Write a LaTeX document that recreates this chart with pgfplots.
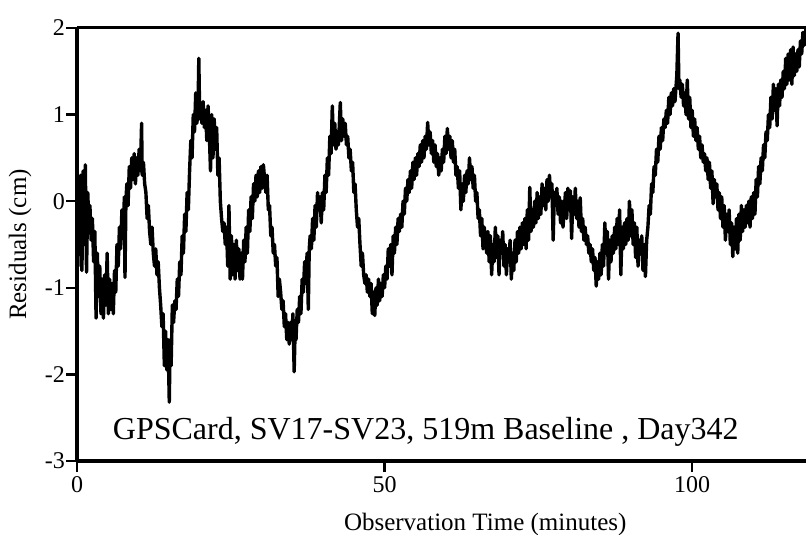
\documentclass[border=0pt]{standalone}
\usepackage{pgfplots}
\pgfplotsset{compat=1.18}
\usepackage{fontspec}
\setmainfont{Liberation Serif}
\begin{document}
\begin{tikzpicture}
\begin{axis}[
  at={(77bp,74bp)}, anchor=south west,
  width=729bp, height=433bp, scale only axis,
  xmin=0, xmax=118.5, ymin=-3, ymax=2,
  axis y line*=left,
  axis line style={line width=3bp},
  every tick/.style={line width=2.4bp, black},
  tick align=outside, tick pos=left,
  major tick length=11bp,
  xtick={0,50,100}, ytick={-3,-2,-1,0,1,2},
  /pgf/number format/assume math mode=true,
  tick label style={font=\fontsize{24bp}{28bp}\selectfont},
  xticklabel style={inner ysep=4bp},
  yticklabel style={inner xsep=1bp},
  xlabel={Observation Time (minutes)},
  ylabel={Residuals (cm)},
  label style={font=\fontsize{25bp}{29bp}\selectfont},
  xlabel style={at={(axis description cs:0.56,-0.1455)}, anchor=center},
  ylabel style={at={(axis description cs:-0.0782,0.5)}, anchor=center},
]
\addplot[black, line width=3.4bp, line join=round] table {
x y
0.0 0.45
0.15 -0.75
0.3 0.1
0.45 -0.6
0.6 0.3
0.8 -0.8
1.0 0.35
1.2 -0.5
1.35 0.42
1.55 -0.82
1.75 0.1
1.95 -0.3
2.1 -0.05
2.3 -0.45
2.5 -0.2
2.7 -0.7
2.9 -0.35
3.1 -1.35
3.3 -0.6
3.5 -1.1
3.7 -0.75
3.9 -1.3
4.1 -0.9
4.3 -1.35
4.5 -0.85
4.7 -1.2
4.9 -0.6
5.1 -1.3
5.3 -0.9
5.5 -1.25
5.7 -0.95
5.9 -1.3
6.1 -0.8
6.3 -1.05
6.5 -0.5
6.7 -0.75
6.9 -0.3
7.1 -0.55
7.3 -0.1
7.5 -0.4
7.7 0.05
7.8 -0.88
7.95 0.0
8.1 0.2
8.3 -0.05
8.5 0.4
8.7 0.15
8.9 0.5
9.1 0.25
9.3 0.55
9.5 0.2
9.7 0.5
9.9 0.3
10.1 0.6
10.3 0.35
10.5 0.9
10.6 0.3
10.8 0.45
11.0 0.2
11.2 0.1
11.4 -0.2
11.6 -0.05
11.8 -0.35
12.0 -0.5
12.2 -0.3
12.4 -0.6
12.6 -0.75
12.8 -0.55
13.0 -0.85
13.2 -0.7
13.4 -1.0
13.6 -1.2
13.8 -1.45
14.0 -1.3
14.2 -1.9
14.4 -1.5
14.6 -1.95
14.8 -1.6
15.0 -2.32
15.15 -1.6
15.3 -1.9
15.5 -1.2
15.7 -1.4
15.9 -1.15
16.1 -1.25
16.3 -0.9
16.5 -1.1
16.7 -0.7
16.9 -0.85
17.1 -0.4
17.3 -0.6
17.5 -0.15
17.7 -0.35
17.9 0.1
18.1 -0.1
18.3 0.35
18.5 0.7
18.7 0.5
18.9 1.0
19.1 0.8
19.3 1.25
19.5 0.9
19.7 1.2
19.8 1.65
19.95 0.95
20.1 1.1
20.3 0.9
20.5 1.15
20.7 0.85
20.9 1.05
21.1 0.7
21.3 1.1
21.5 0.8
21.7 0.35
21.9 1.0
22.1 0.5
22.3 0.95
22.5 0.6
22.7 0.85
22.9 0.3
23.1 0.5
23.3 0.0
23.5 -0.2
23.7 -0.35
23.9 -0.25
24.1 -0.5
24.3 -0.3
24.5 -0.75
24.7 -0.05
24.9 -0.9
25.1 -0.4
25.3 -0.85
25.5 -0.5
25.7 -0.9
25.9 -0.45
26.1 -0.8
26.3 -0.55
26.5 -0.9
26.7 -0.6
26.9 -0.9
27.1 -0.45
27.3 -0.7
27.5 -0.3
27.7 -0.6
27.9 -0.1
28.1 -0.35
28.3 0.05
28.5 -0.2
28.7 0.2
28.9 0.0
29.1 0.3
29.3 0.05
29.5 0.35
29.7 0.1
29.9 0.4
30.1 0.15
30.3 0.42
30.5 0.25
30.7 0.1
30.9 0.3
31.1 -0.1
31.3 -0.05
31.5 -0.4
31.7 -0.3
31.9 -0.6
32.1 -0.5
32.3 -0.75
32.5 -0.65
32.7 -1.1
32.9 -0.9
33.1 -1.05
33.3 -1.25
33.5 -1.15
33.7 -1.45
33.9 -1.3
34.1 -1.6
34.3 -1.4
34.5 -1.65
34.7 -1.4
34.9 -1.6
35.1 -1.3
35.3 -1.97
35.45 -1.5
35.6 -1.6
35.8 -1.25
36.0 -1.4
36.2 -1.1
36.4 -1.3
36.6 -0.9
36.8 -1.05
37.0 -0.7
37.2 -0.95
37.4 -0.6
37.6 -1.25
37.75 -0.55
37.9 -0.4
38.1 -0.55
38.3 -0.2
38.5 -0.45
38.7 -0.05
38.9 -0.3
39.1 0.1
39.3 -0.1
39.5 0.05
39.7 -0.25
39.9 0.1
40.1 -0.1
40.3 0.3
40.5 0.1
40.7 0.5
40.9 0.3
41.1 0.75
41.3 0.55
41.5 1.1
41.7 0.65
41.9 0.9
42.1 0.6
42.3 0.8
42.5 0.65
42.8 1.14
43.0 0.7
43.2 0.95
43.4 0.75
43.6 0.9
43.8 0.65
44.0 0.75
44.2 0.5
44.4 0.6
44.6 0.35
44.8 0.45
45.0 0.1
45.2 0.2
45.4 -0.1
45.6 -0.3
45.8 -0.2
46.0 -0.5
46.2 -0.75
46.4 -0.6
46.6 -0.85
46.8 -0.95
47.0 -0.85
47.2 -1.05
47.4 -0.9
47.6 -1.1
47.8 -0.95
48.0 -1.3
48.2 -1.05
48.4 -1.32
48.6 -1.0
48.8 -1.2
49.0 -0.9
49.2 -1.15
49.4 -0.95
49.6 -1.1
49.8 -0.85
50.0 -1.0
50.2 -0.75
50.4 -0.9
50.6 -0.55
50.8 -0.75
51.0 -0.5
51.2 -0.85
51.4 -0.4
51.6 -0.6
51.8 -0.3
52.0 -0.5
52.2 -0.2
52.4 -0.35
52.6 -0.15
52.8 -0.3
53.0 0.0
53.2 -0.15
53.4 0.15
53.6 0.0
53.8 0.25
54.0 0.1
54.2 0.35
54.4 0.15
54.6 0.45
54.8 0.25
55.0 0.5
55.2 0.3
55.4 0.55
55.6 0.4
55.8 0.65
56.0 0.45
56.2 0.7
56.4 0.5
56.6 0.75
56.8 0.6
57.0 0.91
57.2 0.65
57.4 0.8
57.6 0.55
57.8 0.7
58.0 0.45
58.2 0.65
58.4 0.4
58.6 0.55
58.8 0.3
59.0 0.5
59.2 0.35
59.4 0.6
59.6 0.45
59.8 0.75
60.0 0.55
60.2 0.84
60.4 0.6
60.6 0.75
60.8 0.5
61.0 0.7
61.2 0.45
61.4 0.6
61.6 0.3
61.8 0.4
62.0 0.15
62.2 0.35
62.4 -0.1
62.6 0.2
62.8 0.0
63.0 0.3
63.2 0.1
63.4 0.35
63.6 0.2
63.8 0.5
64.0 0.25
64.2 0.4
64.4 0.15
64.6 0.3
64.8 0.0
65.0 0.1
65.2 -0.2
65.4 -0.1
65.6 -0.4
65.8 -0.2
66.0 -0.55
66.2 -0.3
66.4 -0.45
66.6 -0.6
66.8 -0.35
67.0 -0.7
67.2 -0.4
67.4 -0.85
67.6 -0.5
67.8 -0.7
68.0 -0.3
68.2 -0.65
68.4 -0.4
68.6 -0.85
68.8 -0.45
69.0 -0.6
69.2 -0.35
69.4 -0.75
69.6 -0.5
69.8 -0.85
70.0 -0.55
70.2 -0.7
70.4 -0.45
70.6 -0.9
70.8 -0.6
71.0 -0.8
71.2 -0.45
71.4 -0.7
71.6 -0.35
71.8 -0.6
72.0 -0.3
72.2 -0.55
72.4 -0.25
72.6 -0.5
72.8 -0.2
73.0 -0.55
73.2 -0.1
73.4 -0.45
73.6 0.16
73.8 -0.35
74.0 -0.1
74.2 -0.3
74.4 0.0
74.6 -0.25
74.8 0.1
75.0 -0.2
75.2 0.05
75.4 -0.15
75.6 0.2
75.8 -0.05
76.0 0.15
76.2 -0.1
76.4 0.25
76.6 0.0
76.8 0.3
77.0 0.05
77.2 0.2
77.4 -0.45
77.6 0.1
77.8 -0.05
78.0 0.15
78.2 -0.15
78.4 0.05
78.6 -0.25
78.8 0.0
79.0 -0.3
79.2 -0.1
79.4 0.1
79.6 -0.2
79.8 0.15
80.0 -0.1
80.2 0.12
80.4 -0.43
80.6 0.05
80.8 -0.15
81.0 0.15
81.2 -0.2
81.4 0.0
81.6 -0.3
81.8 0.04
82.0 -0.35
82.2 -0.2
82.4 -0.45
82.6 -0.3
82.8 -0.5
83.0 -0.4
83.2 -0.6
83.4 -0.5
83.6 -0.7
83.8 -0.55
84.0 -0.8
84.2 -0.65
84.4 -0.98
84.6 -0.7
84.8 -0.9
85.0 -0.6
85.2 -0.85
85.4 -0.5
85.6 -0.75
85.8 -0.25
86.0 -0.6
86.2 -0.35
86.4 -0.9
86.6 -0.45
86.8 -0.7
87.0 -0.4
87.2 -0.6
87.4 -0.3
87.6 -0.55
87.8 -0.2
88.0 -0.5
88.2 -0.1
88.4 -0.85
88.6 -0.3
88.8 -0.55
89.0 -0.25
89.2 -0.5
89.4 -0.2
89.6 -0.45
89.8 0.0
90.0 -0.4
90.2 -0.1
90.4 -0.5
90.6 -0.25
90.8 -0.65
91.0 -0.3
91.2 -0.75
91.4 -0.45
91.6 -0.6
91.8 -0.4
92.0 -0.8
92.2 -0.5
92.4 -0.87
92.6 -0.45
92.8 -0.3
93.0 -0.05
93.2 -0.15
93.4 0.2
93.6 0.1
93.8 0.4
94.0 0.3
94.2 0.6
94.4 0.45
94.6 0.75
94.8 0.6
95.0 0.85
95.2 0.7
95.4 0.95
95.6 0.85
95.8 1.05
96.0 0.9
96.2 1.2
96.4 1.0
96.6 1.25
96.8 1.1
97.0 1.3
97.2 1.15
97.5 1.45
97.7 1.94
97.85 1.3
98.0 1.4
98.2 1.2
98.4 1.35
98.6 1.1
98.8 1.25
99.0 1.0
99.2 1.4
99.4 0.95
99.6 1.2
99.8 0.85
100.0 1.05
100.2 0.75
100.4 0.95
100.6 0.7
100.8 0.85
101.0 0.6
101.2 0.75
101.4 0.5
101.6 0.65
101.8 0.45
102.0 0.55
102.2 0.35
102.4 0.5
102.6 0.25
102.8 0.45
103.0 0.15
103.2 0.35
103.4 -0.03
103.6 0.25
103.8 0.05
104.0 0.2
104.2 -0.1
104.4 0.1
104.6 -0.2
104.8 0.05
105.0 -0.3
105.2 -0.05
105.4 -0.45
105.6 -0.15
105.8 -0.35
106.0 -0.1
106.2 -0.5
106.4 -0.25
106.6 -0.64
106.8 -0.3
107.0 -0.55
107.2 -0.2
107.4 -0.6
107.6 -0.15
107.8 -0.45
108.0 -0.05
108.2 -0.35
108.4 -0.1
108.6 -0.3
108.8 -0.05
109.0 -0.25
109.2 0.0
109.4 -0.3
109.6 0.05
109.8 -0.2
110.0 0.1
110.2 -0.15
110.4 0.25
110.6 0.05
110.8 0.4
111.0 0.2
111.2 0.5
111.4 0.35
111.6 0.65
111.8 0.5
112.0 0.8
112.2 0.7
112.4 1.0
112.6 0.85
112.8 1.2
113.0 0.95
113.2 1.35
113.4 1.05
113.6 1.3
113.8 0.87
114.0 1.35
114.2 1.1
114.4 1.4
114.6 1.2
114.8 1.5
115.0 1.3
115.2 1.65
115.4 1.35
115.6 1.7
115.8 1.4
116.0 1.75
116.2 1.35
116.4 1.78
116.6 1.45
116.8 1.7
117.0 1.5
117.2 1.75
117.4 1.55
117.6 1.85
117.8 1.7
118.0 1.95
118.2 1.8
118.5 2.0
};
\node[anchor=base, font=\fontsize{32bp}{38bp}\selectfont] at (axis cs:56.7,-2.75) {GPSCard, SV17-SV23, 519m Baseline , Day342};
\end{axis}
\pgfresetboundingbox
\path (0,0) rectangle (806bp,535bp);
\end{tikzpicture}
\end{document}
